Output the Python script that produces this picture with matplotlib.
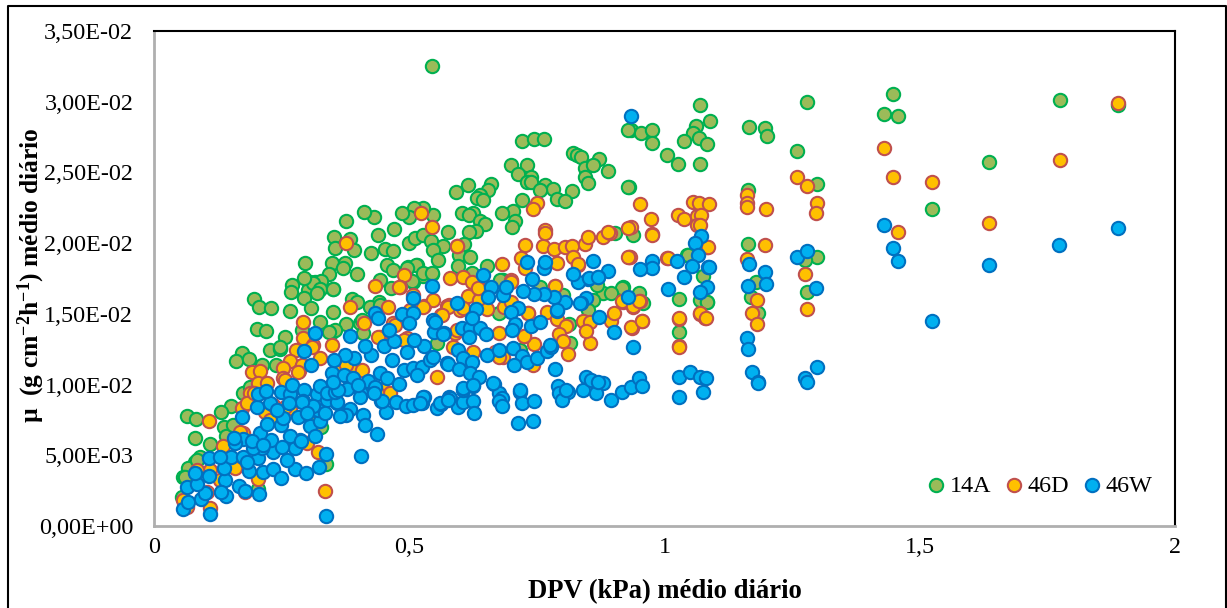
import numpy as np
import matplotlib
matplotlib.use("Agg")
import matplotlib.pyplot as plt
from matplotlib.lines import Line2D

plt.rcParams['font.family'] = ['Liberation Serif', 'DejaVu Serif']
plt.rcParams['mathtext.fontset'] = 'custom'
plt.rcParams['mathtext.rm'] = 'Liberation Serif:bold'
plt.rcParams['mathtext.bf'] = 'Liberation Serif:bold'
plt.rcParams['mathtext.default'] = 'bf'

# pairs: DPV (kPa), mu (E-02 g cm-2 h-1)
pts_14A = [
(1.070,2.977),(1.089,2.867),(1.062,2.831),(1.055,2.777),(1.068,2.746),(1.084,2.699),(1.038,2.723),(1.005,2.621),
(1.026,2.560),(1.070,2.558),(.934,2.800),(.953,2.777),(.975,2.800),(.976,2.711),(.931,2.400),(1.165,2.819),
(1.197,2.812),(1.200,2.760),(1.260,2.652),(1.280,3.001),(1.298,2.416),(1.447,3.053),(1.429,2.911),(1.458,2.902),
(1.163,2.376),(1.163,1.992),(1.298,1.905),(1.275,1.881),(1.279,1.657),(1.180,1.728),(1.169,1.622),(1.184,1.504),
(1.045,1.917),(1.076,1.770),(1.029,1.605),(1.070,1.598),(1.084,1.587),(1.028,1.370),(.938,2.058),(.918,1.693),
(.951,1.645),(.957,1.579),(1.888,2.98),(1.775,3.01),(1.636,2.574),(1.524,2.242),
(.545,3.256),(.720,2.725),(.744,2.735),(.763,2.737),(.821,2.636),(.828,2.624),(.836,2.612),(.872,2.593),
(.844,2.534),(.860,2.553),(.890,2.513),(.845,2.471),(.850,2.428),(.929,2.801),(.929,2.400),(.699,2.553),
(.730,2.553),(.714,2.489),(.738,2.471),(.730,2.435),(.738,2.430),(.765,2.412),(.782,2.381),(.756,2.376),
(.818,2.372),(.789,2.313),(.805,2.298),(.720,2.305),(.704,2.228),(.681,2.216),(.707,2.159),(.701,2.112),
(.660,2.419),(.616,2.412),(.592,2.364),(.655,2.376),(.639,2.341),(.632,2.317),(.644,2.306),(.604,2.211),
(.625,2.216),(.618,2.199),(.639,2.159),(.648,2.136),(.631,2.086),(.617,2.077),(.575,2.077),(.546,2.199),
(.527,2.247),(.510,2.251),(.500,2.188),(.485,2.216),(.431,2.183),(.411,2.223),(.377,2.157),(.470,2.098),
(.439,2.058),(.353,2.046),(.384,2.030),(.355,1.968),(.391,1.952),(.426,1.928),(.500,2.004),(.511,2.034),
(.527,2.058),(.542,2.018),(.567,1.983),(.547,1.952),(.452,1.957),(.469,1.947),(.557,1.881),(.608,1.994),
(.598,1.917),(.619,1.905),(.596,1.839),(.456,1.846),(.468,1.810),(.498,1.829),(.515,1.846),(.296,1.858),
(.348,1.862),(.374,1.862),(.371,1.822),(.397,1.780),(.343,1.782),(.306,1.728),(.316,1.728),(.327,1.733),
(.324,1.669),(.350,1.678),(.302,1.669),(.443,1.740),(.465,1.681),(.508,1.728),(.527,1.768),(.545,1.782),
(.652,1.839),(.903,2.074),(.388,1.603),(.441,1.582),(.916,1.686),(.880,1.645),(.620,1.782),(.684,1.740),
(.195,1.605),(.206,1.551),(.229,1.542),(.266,1.523),(.270,1.704),(.268,1.657),(.294,1.615),(.308,1.539),
(.311,1.716),(.325,1.674),(.319,1.645),(.350,1.676),(.351,1.511),(.202,1.393),(.219,1.379),(.257,1.334),
(.227,1.245),(.246,1.252),(.326,1.445),(.289,1.386),(.377,1.429),(.348,1.374),(.397,1.587),(.423,1.551),
(.404,1.433),(.443,1.563),(.172,1.221),(.160,1.167),(.187,1.179),(.211,1.139),(.239,1.139),(.174,.943),
(.151,.849),(.131,.809),(.065,.780),(.082,.754),(.137,.698),(.080,.625),(.110,.580),(.141,.637),
(.090,.490),(.080,.455),(.067,.408),(.057,.349),(.054,.207),(.337,.436),(.204,.259),(.328,.703),
(.188,.985),(.554,1.292),(.410,1.363),(.513,1.846),(.496,1.822),(.526,1.787),(.506,1.733),(.545,1.787),
(.622,1.787),(.678,1.740),(.676,1.504),(.756,1.693),(.802,1.634),(.812,1.429),(.815,1.292),(.717,1.245),
(.896,1.645),(.867,1.704),(.859,1.598),(.851,1.528),(1.047,1.917),(1.083,1.587),(.294,1.754),
(.354,1.386),(.342,1.374),(.247,1.268),(.407,1.457),(.155,.714),(.084,.467),(.061,.349),
]

pts_46D = [
(.952,2.275),(.974,2.173),(.976,2.065),(.934,2.112),(.930,1.900),(1.004,1.893),(1.026,2.197),(1.039,2.171),
(1.055,2.294),(1.067,2.287),(1.088,2.275),(1.063,2.195),(1.071,2.199),(1.063,2.129),(1.070,2.129),(1.084,1.975),
(.952,1.594),(.938,1.551),(.919,1.582),(.955,1.452),(.936,1.403),(1.028,1.466),(1.028,1.273),(1.070,1.499),
(1.080,1.469),(1.162,2.341),(1.161,2.282),(1.162,2.258),(1.199,2.239),(1.162,1.886),(1.182,1.598),(1.171,1.509),
(1.182,1.429),(1.260,2.466),(1.280,2.405),(1.298,2.287),(1.297,2.216),(1.275,1.780),(1.280,1.532),(1.429,2.676),
(1.447,2.468),(1.458,2.077),(1.888,2.99),(1.775,2.588),(1.636,2.143),(1.524,2.433),(1.197,1.990),
(.593,1.983),(.727,1.987),(.762,1.983),(.783,1.959),(.805,1.975),(.819,1.980),(.845,1.994),(.851,2.046),
(.880,2.041),(.893,2.070),(.976,2.058),(.932,1.900),(1.006,1.893),(1.086,1.975),(.821,1.905),(.831,1.846),
(.789,1.862),(.766,2.093),(.718,1.893),(.727,1.822),(.682,1.851),(.699,1.740),(.580,1.752),(.605,1.759),
(.622,1.728),(.637,1.681),(.616,1.629),(.637,1.598),(.653,1.535),(.685,1.551),(.732,1.504),(.769,1.516),
(.785,1.700),(.789,1.462),(.808,1.417),(.793,1.356),(.801,1.311),(.810,1.216),(.744,1.287),(.725,1.344),
(.676,1.367),(.743,1.139),(.668,1.233),(.684,1.198),(.586,1.268),(.625,1.233),(.590,1.363),(.554,1.056),
(.855,1.292),(.840,1.450),(.855,1.440),(.846,1.381),(.896,1.452),(.901,1.504),(.934,1.405),(.955,1.452),
(.916,1.591),(.939,1.556),(.951,1.594),(.489,1.775),(.528,1.556),(.547,1.598),(.563,1.492),(.577,1.563),
(.599,1.528),(.508,1.634),(.482,1.693),(1.029,1.469),(1.029,1.268),(1.070,1.504),(1.081,1.469),
(.377,1.999),(.523,2.216),(.545,2.112),(.593,1.980),(.751,2.287),(.743,2.240),(.765,2.070),(.890,2.082),
(.929,2.105),(.929,1.900),(.432,1.700),(.479,1.693),(.699,1.723),(.635,1.681),
(.384,1.546),(.459,1.546),(.573,1.556),(.526,1.546),(.291,1.440),(.412,1.433),(.348,1.280),(.292,1.327),
(.312,1.280),(.279,1.245),(.325,1.186),(.266,1.167),(.253,1.115),(.284,1.099),(.252,1.044),(.191,1.087),
(.208,1.099),(.203,1.009),(.221,1.009),(.188,.938),(.172,.832),(.218,.809),(.108,.745),(.136,.568),
(.175,.655),(.322,.526),(.335,.248),(.204,.332),(.159,.408),(.110,.125),(.064,.137),(.057,.184),
(.103,.243),(.129,.325),(.178,.243),(.110,.396),(.084,.396),(.299,.585),(.397,1.103),(.384,1.115),
(.407,1.103),(.495,1.327),(.443,1.339),(.469,1.433),(.501,1.528),(.358,1.103),(.377,1.139),(.289,1.139),
(.449,.962),(.462,.938),(.234,.856),(.266,.832),(.306,.785),
(.168,.667),(.183,.868),(.195,.938),(.227,.750),(.257,.844),(.309,1.269),(.257,1.033),(.283,1.092),(.439,1.339),
(.472,1.422),(.490,1.315),(.436,.938),(.733,1.504),(.700,1.587),(.606,1.539),(.576,1.551),(.564,1.492),
(.593,1.386),(.830,1.853),(.786,1.697),(.724,1.344),(.676,1.197),
]

pts_46W = [
(.057,.123),(.067,.172),(.093,.189),(.110,.083),(.100,.231),(.064,.273),(.084,.297),(.080,.373),(.108,.356),
(.139,.325),(.141,.214),(.131,.243),(.167,.285),(.178,.250),(.205,.229),(.108,.483),(.137,.413),(.151,.490),
(.175,.486),(.187,.387),(.214,.384),(.234,.401),(.249,.337),(.277,.401),(.297,.377),(.324,.415),(.337,.507),
(.405,.497),(.336,.071),(.261,.467),(.204,.483),(.234,.526),(.276,.550),(.286,.608),(.266,.639),(.230,.608),
(.211,.549),(.193,.549),(.174,.613),(.159,.585),(.208,.655),(.222,.721),(.248,.714),(.283,.769),(.306,.710),
(.315,.636),(.325,.745),(.253,.761),(.172,.769),(.202,.839),(.227,.872),(.204,.931),(.219,.955),(.248,.945),
(.266,.934),(.271,.997),(.294,.962),(.291,.884),(.309,.849),(.319,.934),(.325,.990),(.348,1.080),(.372,1.068),
(.390,1.044),(.379,.967),(.405,.938),(.420,1.025),(.443,1.080),(.457,1.044),(.479,1.004),(.490,1.103),(.508,1.115),
(.524,1.122),(.544,1.198),(.515,1.068),(.466,1.174),(.451,1.275),(.470,1.308),(.426,1.209),(.413,1.275),(.392,1.190),
(.374,1.209),(.353,1.174),(.307,1.139),(.294,1.238),(.315,1.363),(.384,1.344),(.433,1.509),(.439,1.469),(.461,1.386),
(.486,1.497),(.508,1.504),(.500,1.433),(.508,1.610),(.545,1.697),(.547,1.457),(.548,1.374),(.568,1.363),(.529,1.275),
(.510,1.315),(.496,1.228),(.573,1.150),(.359,.868),(.383,.827),(.410,.785),(.413,.714),(.436,.648),(.454,.809),
(.445,.884),(.475,.879),(.494,.849),(.508,.856),(.524,.868),(.528,.915),(.554,.832),(.563,.863),(.577,.910),
(.348,.915),(.377,.785),(.364,.778),(.338,.891),(.322,.820),
(1.071,2.051),(1.060,1.999),(1.066,1.917),(1.086,1.834),(1.054,1.841),(1.038,1.759),(1.025,1.876),(.975,1.874),
(.975,1.827),(.952,1.818),(1.006,1.676),(1.084,1.693),(1.070,1.653),(.929,1.622),(.890,1.803),(.859,1.876),
(.869,1.763),(.851,1.747),(.831,1.728),(.821,1.780),(.872,1.480),(.901,1.370),(.938,1.268),(.846,1.610),(.836,1.579),
(.805,1.586),(.789,1.523),(.784,1.622),(.763,1.638),(.745,1.638),(.722,1.662),(.740,1.744),(.730,1.865),(.763,1.822),
(.766,1.865),(.645,1.775),(.660,1.688),(.683,1.634),(.655,1.622),(.713,1.539),(.699,1.511),(.707,1.426),(.701,1.386),
(.738,1.414),(.756,1.445),(.631,1.532),(.593,1.579),(.567,1.358),(.603,1.403),(.619,1.398),(.617,1.334),(.639,1.398),
(.650,1.358),(.622,1.469),(.576,1.146),(.596,1.245),(.606,1.186),(.598,1.110),(.622,1.162),(.619,1.084),(.637,1.056),
(.652,1.209),(.676,1.245),(.704,1.261),(.720,1.202),(.705,1.139),(.730,1.162),(.751,1.186),(.769,1.240),(.777,1.268),
(.785,1.110),(.526,.915),(.580,.903),(.596,.844),(.605,.875),(.606,.962),(.624,.990),(.625,.884),(.627,.802),
(.666,1.004),(.676,.938),(.681,.903),(.676,.884),(.681,.851),(.716,.950),(.720,.872),(.745,.886),(.714,.726),(.743,.745),
(.792,.992),(.794,.938),(.810,.945),(.800,.891),(.840,.962),(.846,1.056),(.857,1.033),(.880,1.009),(.866,.938),(.895,.891),
(.917,.950),(.935,.981),(.951,1.044),(.955,.992),(1.029,1.056),(1.050,1.091),(1.070,1.056),(1.081,1.049),(1.076,.950),
(1.028,.915),(.934,2.902),(1.088,1.829),(1.165,1.855),(1.197,1.794),(1.199,1.711),(1.164,1.697),(1.162,1.327),
(1.163,1.252),(1.172,1.091),(1.183,1.021),(1.183,1.009),(1.260,1.902),(1.280,1.942),(1.297,1.681),(1.429,2.126),
(1.447,1.966),(1.458,1.874),(1.298,1.122),(1.275,1.049),(1.280,1.021),(1.888,2.107),(1.773,1.987),(1.636,1.846),(1.524,1.450),
(.129,.486),(.183,.455),(.157,.620),(.191,.600),(.214,.573),(.250,.561),(.287,.604),(.312,.849),(.290,.879),
(.358,.879),(.338,.938),(.354,.950),(.404,.915),(.433,.985),(.446,.886),(.521,.868),(.560,.868),(.576,.891),
(.550,1.445),(.541,1.174),(.547,1.197),(.665,1.009),(.606,.974),(.625,.997),(.716,.962),(.808,.962),(.870,1.021),
(.775,1.280),(.689,1.690),(.789,1.528),(.852,1.752),(.870,1.763),(.835,1.579),(.240,.820),(.265,.870),(.300,.800),
(.335,.800),(.360,.960),(.400,1.000),(.430,.940),(.350,1.020),
]

series_names = ["14A", "46D", "46W"]
face_colors = ["#9BBB59", "#FFC000", "#00B0F0"]
edge_colors = ["#00B050", "#C0504D", "#0070C0"]
y_ticks = [0, .5, 1, 1.5, 2, 2.5, 3, 3.5]
y_tick_labels = ["0,00E+00", "5,00E-03", "1,00E-02", "1,50E-02", "2,00E-02", "2,50E-02", "3,00E-02", "3,50E-02"]
x_ticks = [0, .5, 1, 1.5, 2]
x_tick_labels = ["0", "0,5", "1", "1,5", "2"]

W, H = 1227, 608
fig = plt.figure(figsize=(W / 100, H / 100), dpi=100, facecolor="white")
ax = fig.add_axes([154 / W, 1 - 526 / H, (1175 - 154) / W, (526 - 31) / H])

for pts, name, fc, ec in zip((pts_14A, pts_46D, pts_46W), series_names, face_colors, edge_colors):
    arr = np.array(pts)
    ax.scatter(arr[:, 0], arr[:, 1], s=92, facecolor=fc, edgecolor=ec, linewidth=1.5, label=name, zorder=3)

ax.set_xlim(0, 2)
ax.set_ylim(0, 3.5)
ax.set_xticks(x_ticks, x_tick_labels)
ax.set_yticks(y_ticks, y_tick_labels)
ax.tick_params(length=0, labelsize=17.4, pad=15)
ax.tick_params(axis='x', pad=8)
for s in ('top', 'right'):
    ax.spines[s].set_color('black')
    ax.spines[s].set_linewidth(1.5)
for s in ('left', 'bottom'):
    ax.spines[s].set_color('#AFAFAF')
    ax.spines[s].set_linewidth(2)

fig.text(664.5 / W, 1 - 592 / H, "DPV (kPa) médio diário", fontsize=19.2, fontweight='bold', ha='center', va='center')
fig.text(31 / W, 1 - 275 / H, "µ  (g cm$^{-2}$h$^{-1}$) médio diário", fontsize=18.4, fontweight='bold',
         rotation=90, ha='center', va='center')

leg = ax.legend(loc='lower right', bbox_to_anchor=(0.9775, 0.059), ncol=3, frameon=False, fontsize=17.4,
                handlelength=0.6, handletextpad=0.25, columnspacing=0.65, borderaxespad=0, borderpad=0,
                scatterpoints=1)

fig.add_artist(Line2D([7.5 / W, 7.5 / W, 1225.5 / W, 1225.5 / W], [0, 1 - 6 / H, 1 - 6 / H, 0], color='black', lw=1.5,
                      transform=fig.transFigure))
fig.savefig("out.png", dpi=100, facecolor="white")
